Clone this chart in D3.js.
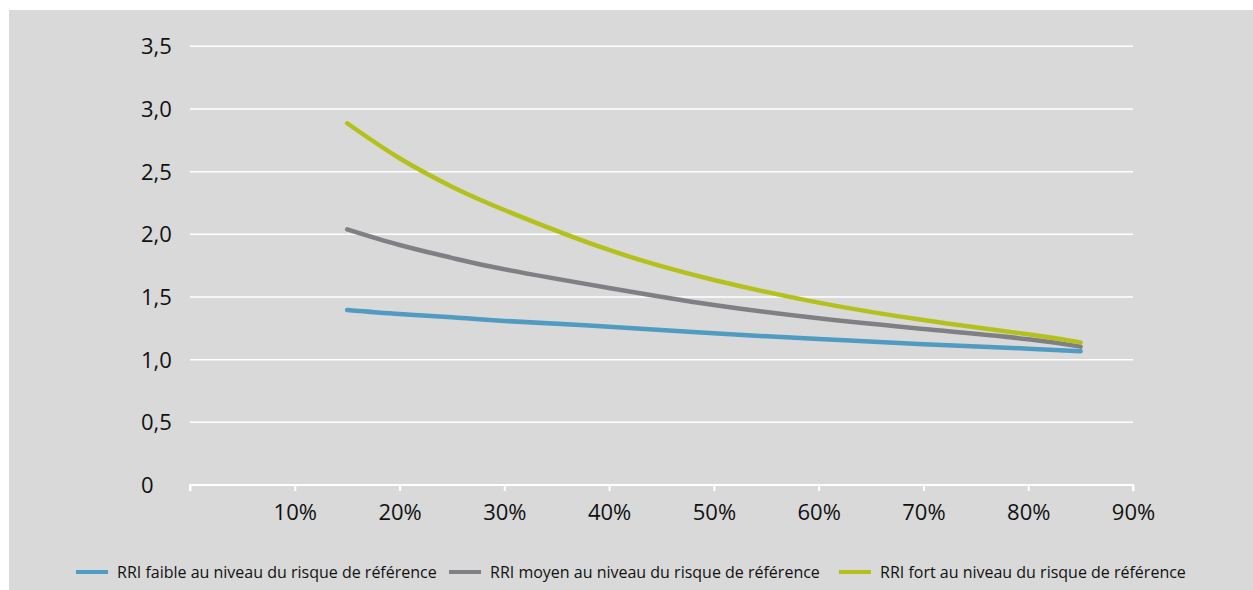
<!DOCTYPE html>
<html>
<head>
<meta charset="utf-8">
<script src="https://cdn.jsdelivr.net/npm/d3@7"></script>
<style>
  html, body { margin: 0; padding: 0; background: #ffffff; }
  svg { display: block; }
</style>
</head>
<body>
<svg id="chart" width="1253" height="590"></svg>
<script>
// Baseline risk (share) on the horizontal axis
const baselineRisk = [0.15, 0.20, 0.25, 0.30, 0.40, 0.50, 0.60, 0.70, 0.80, 0.85];

// RRI values at the reference risk level
const rriLow    = [1.396, 1.364, 1.338, 1.309, 1.263, 1.210, 1.165, 1.123, 1.088, 1.067];
const rriMedium = [2.040, 1.915, 1.812, 1.721, 1.572, 1.436, 1.330, 1.245, 1.163, 1.104];
const rriHigh   = [2.886, 2.607, 2.380, 2.194, 1.875, 1.636, 1.455, 1.316, 1.202, 1.138];

const seriesNames = [
  "RRI faible au niveau du risque de référence",
  "RRI moyen au niveau du risque de référence",
  "RRI fort au niveau du risque de référence"
];
const seriesColors = ["#4f9bc1", "#807f84", "#b4c11c"];

const yTicks = [0, 0.5, 1.0, 1.5, 2.0, 2.5, 3.0, 3.5];
const yTickLabels = ["0", "0,5", "1,0", "1,5", "2,0", "2,5", "3,0", "3,5"];
const xTicks = [0, 0.1, 0.2, 0.3, 0.4, 0.5, 0.6, 0.7, 0.8, 0.9];
const xTickLabels = ["", "10%", "20%", "30%", "40%", "50%", "60%", "70%", "80%", "90%"];

const svg = d3.select("#chart");
const W = 1253, H = 590;
const font = "'Open Sans', 'Noto Sans', sans-serif";

// panel background
svg.append("rect")
  .attr("x", 9).attr("y", 10)
  .attr("width", W - 9).attr("height", H - 10)
  .attr("fill", "#d9d9d9");

const x = d3.scaleLinear().domain([0, 0.9]).range([190, 1133]);
const y = d3.scaleLinear().domain([0, 3.5]).range([485, 46.3]);

// horizontal gridlines (no line at zero, the axis takes that place)
svg.append("g")
  .selectAll("line")
  .data(yTicks.filter(d => d > 0))
  .join("line")
  .attr("x1", x(0)).attr("x2", x(0.9))
  .attr("y1", d => y(d)).attr("y2", d => y(d))
  .attr("stroke", "#ffffff").attr("stroke-width", 1.5);

// y tick labels, left aligned
svg.append("g")
  .selectAll("text")
  .data(yTicks)
  .join("text")
  .attr("x", 141)
  .attr("y", d => y(d))
  .attr("dy", "0.36em")
  .attr("font-family", font)
  .attr("font-size", 22)
  .attr("fill", "#111")
  .text((d, i) => yTickLabels[i]);

// x axis
const xAxis = d3.axisBottom(x)
  .tickValues(xTicks)
  .tickSize(6)
  .tickPadding(13)
  .tickFormat((d, i) => xTickLabels[i]);

const gx = svg.append("g")
  .attr("transform", `translate(0,${y(0)})`)
  .call(xAxis);
gx.select(".domain")
  .attr("d", `M${x(0)},${6}V0H${x(0.9)}V${6}`)
  .attr("stroke", "#ffffff").attr("stroke-width", 2).attr("fill", "none");
gx.selectAll(".tick line").attr("stroke", "#ffffff").attr("stroke-width", 2);
gx.selectAll(".tick text")
  .attr("font-family", font)
  .attr("font-size", 22)
  .attr("fill", "#111");

// series lines
const series = [rriLow, rriMedium, rriHigh];
const line = d3.line()
  .x((d, i) => x(baselineRisk[i]))
  .y(d => y(d))
  .curve(d3.curveNatural);

svg.append("g")
  .selectAll("path")
  .data(series)
  .join("path")
  .attr("d", d => line(d))
  .attr("fill", "none")
  .attr("stroke", (d, i) => seriesColors[i])
  .attr("stroke-width", 4.5)
  .attr("stroke-linecap", "round")
  .attr("stroke-linejoin", "round");

// legend: swatch start positions along the bottom row
const legendX = [76, 449, 839];
const legend = svg.append("g").attr("transform", "translate(0,572)");
seriesNames.forEach((name, i) => {
  const g = legend.append("g").attr("transform", `translate(${legendX[i]},0)`);
  g.append("line")
    .attr("x1", 0).attr("x2", 32)
    .attr("y1", 0).attr("y2", 0)
    .attr("stroke", seriesColors[i])
    .attr("stroke-width", 4);
  g.append("text")
    .attr("x", 41)
    .attr("y", 0)
    .attr("dy", "0.35em")
    .attr("font-family", font)
    .attr("font-size", 16)
    .attr("fill", "#111")
    .text(name);
});
</script>
</body>
</html>
